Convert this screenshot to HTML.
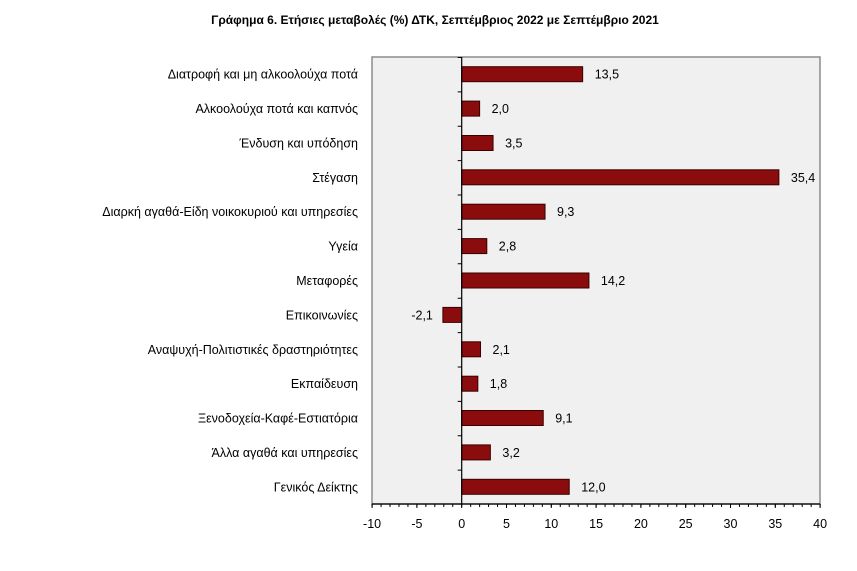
<!DOCTYPE html>
<html><head><meta charset="utf-8"><style>
body{margin:0;background:#fff;}
svg text{font-family:"Liberation Sans","DejaVu Sans",sans-serif;font-size:12.5px;fill:#000;}
</style></head><body>
<svg width="857" height="566" xmlns="http://www.w3.org/2000/svg">
<text x="435" y="24" text-anchor="middle" style="font-size:12px;font-weight:bold">Γράφημα 6. Ετήσιες μεταβολές (%) ΔΤΚ, Σεπτέμβριος 2022 με Σεπτέμβριο 2021</text>
<rect x="372" y="57" width="448" height="447" fill="#f0f0f0" stroke="#8c8c8c" stroke-width="1.5"/>
<g fill="#8b0c0c" stroke="#3a0000" stroke-width="1">
<rect x="461.7" y="66.7" width="120.96" height="15"/>
<rect x="461.7" y="101.1" width="17.92" height="15"/>
<rect x="461.7" y="135.5" width="31.36" height="15"/>
<rect x="461.7" y="169.8" width="317.18" height="15"/>
<rect x="461.7" y="204.2" width="83.33" height="15"/>
<rect x="461.7" y="238.6" width="25.09" height="15"/>
<rect x="461.7" y="273.0" width="127.23" height="15"/>
<rect x="442.88" y="307.4" width="18.82" height="15"/>
<rect x="461.7" y="341.8" width="18.82" height="15"/>
<rect x="461.7" y="376.2" width="16.13" height="15"/>
<rect x="461.7" y="410.5" width="81.54" height="15"/>
<rect x="461.7" y="444.9" width="28.67" height="15"/>
<rect x="461.7" y="479.3" width="107.52" height="15"/>
</g>
<g text-anchor="end">
<text x="358" y="78.7">Διατροφή και μη αλκοολούχα ποτά</text>
<text x="358" y="113.1">Αλκοολούχα ποτά και καπνός</text>
<text x="358" y="147.5">Ένδυση και υπόδηση</text>
<text x="358" y="181.8">Στέγαση</text>
<text x="358" y="216.2">Διαρκή αγαθά-Είδη νοικοκυριού και υπηρεσίες</text>
<text x="358" y="250.6">Υγεία</text>
<text x="358" y="285.0">Μεταφορές</text>
<text x="358" y="319.4">Επικοινωνίες</text>
<text x="358" y="353.8">Αναψυχή-Πολιτιστικές δραστηριότητες</text>
<text x="358" y="388.2">Εκπαίδευση</text>
<text x="358" y="422.5">Ξενοδοχεία-Καφέ-Εστιατόρια</text>
<text x="358" y="456.9">Άλλα αγαθά και υπηρεσίες</text>
<text x="358" y="491.3">Γενικός Δείκτης</text>
<text x="432.9" y="319.4">-2,1</text>
</g>
<text x="594.7" y="78.7">13,5</text>
<text x="491.6" y="113.1">2,0</text>
<text x="505.1" y="147.5">3,5</text>
<text x="790.9" y="181.8">35,4</text>
<text x="557.0" y="216.2">9,3</text>
<text x="498.8" y="250.6">2,8</text>
<text x="600.9" y="285.0">14,2</text>
<text x="492.5" y="353.8">2,1</text>
<text x="489.8" y="388.2">1,8</text>
<text x="555.2" y="422.5">9,1</text>
<text x="502.4" y="456.9">3,2</text>
<text x="581.2" y="491.3">12,0</text>
<line x1="461.7" y1="57" x2="461.7" y2="504" stroke="#000" stroke-width="1.2"/>
<line x1="459.7" y1="57" x2="459.7" y2="504" stroke="#000" stroke-width="4" stroke-dasharray="1 33.385"/>
<line x1="372" y1="504" x2="820" y2="504" stroke="#000" stroke-width="1.2"/>
<line x1="371.6" y1="505.5" x2="821" y2="505.5" stroke="#000" stroke-width="3" stroke-dasharray="1 7.96"/>
<line x1="371.6" y1="506" x2="821" y2="506" stroke="#000" stroke-width="4" stroke-dasharray="1 43.8"/>
<g text-anchor="middle">
<text x="372.1" y="528">-10</text>
<text x="416.9" y="528">-5</text>
<text x="461.7" y="528">0</text>
<text x="506.5" y="528">5</text>
<text x="551.3" y="528">10</text>
<text x="596.1" y="528">15</text>
<text x="640.9" y="528">20</text>
<text x="685.7" y="528">25</text>
<text x="730.5" y="528">30</text>
<text x="775.3" y="528">35</text>
<text x="820.1" y="528">40</text>
</g>
</svg>
</body></html>
